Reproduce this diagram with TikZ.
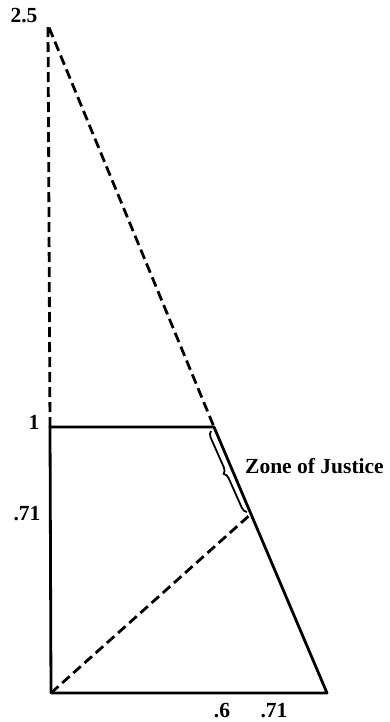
\documentclass[tikz,border=0pt]{standalone}
\usepackage{fontspec}
\setmainfont{Liberation Serif}
\usetikzlibrary{calc,decorations.pathreplacing}
\begin{document}
\begin{tikzpicture}[x=1pt, y=-1pt, line join=round,
    solidline/.style={line width=2.8pt},
    dashline/.style={line width=2.8pt, dash pattern=on 10pt off 5pt},
    lbl/.style={font=\fontsize{21.5}{23}\selectfont\bfseries, inner sep=0pt}]
  \useasboundingbox (0,0) rectangle (390,722);
  % corners of the figure
  \coordinate (top) at (48,25);
  \coordinate (one) at (50,427);
  \coordinate (orig) at (51,693);
  \coordinate (hend) at (214,427);
  \coordinate (base) at (327,693);
  \coordinate (mid) at ($(hend)!0.327!(base)$);
  \draw[solidline] (hend) -- (one) -- (orig) -- (base) -- cycle;
  \draw[dashline] (one) -- (top) -- (hend);
  \draw[dashline] (orig) -- (mid);
  % zone between the two levels
  \draw[line width=1.8pt, decorate, decoration={brace, amplitude=6pt}]
    ($(mid)+(-4,-2)$) -- ($(hend)+(-3,4)$);
  \node[lbl, anchor=west] (zone) at (245,466) {Zone of Justice};
  % axis values
  \node[lbl] (ytop) at (24,16) {2.5};
  \node[lbl] (yone) at (34,422) {1};
  \node[lbl] (ymid) at (27,514) {.71};
  \node[lbl] (xsix) at (222,711) {.6};
  \node[lbl] (xmid) at (274,711) {.71};
\end{tikzpicture}
\end{document}
